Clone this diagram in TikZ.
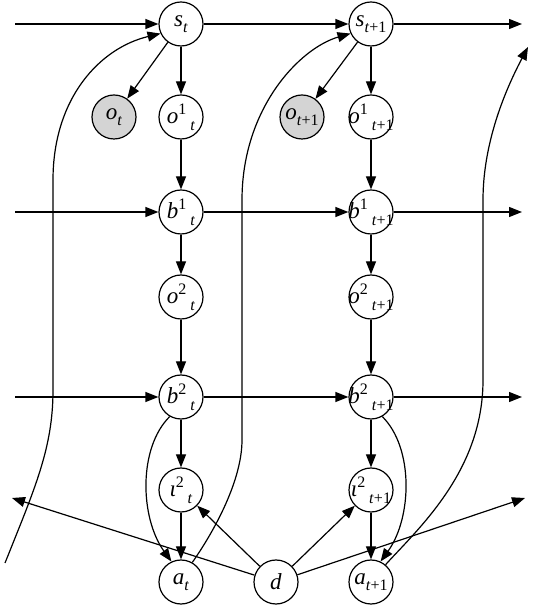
\documentclass[tikz,border=0pt]{standalone}
\usepackage{fontspec}
\setmainfont{Liberation Serif}
\usetikzlibrary{arrows.meta}
\newcommand\scfnt{\fontsize{16}{16}\selectfont}
\newcommand\nlab[3]{\makebox[0pt]{\textit{#1}\raisebox{.42em}{\scfnt #2}\,\raisebox{-.28em}{\scfnt #3}}}
\newcommand\slab[2]{\makebox[0pt]{\textit{#1}\raisebox{-.28em}{\scfnt #2}}}
\newcommand\tp{\textit{t}+1}
\begin{document}
\begin{tikzpicture}[x=1pt,y=1pt,
  st/.style={circle,draw,line width=1.2pt,minimum size=44pt,inner sep=0pt,font=\fontsize{23}{23}\selectfont},
  obs/.style={st,fill=black!17},
  ar/.style={line width=1.2pt,-{Triangle[length=13pt,width=10pt]}}]
\useasboundingbox (0,0) rectangle (540,608);
% nodes
\node[st] (st) at (181,584) {\slab{s}{\textit{t}}};
\node[st] (st1) at (371,584) {\slab{s}{\tp}};
\node[obs] (ot) at (114,491) {\slab{o}{\textit{t}}};
\node[st] (o1t) at (181,491) {\nlab{o}{1}{\textit{t}}};
\node[obs] (ot1) at (302,491) {\slab{o}{\tp}};
\node[st] (o1t1) at (371,491) {\nlab{o}{1}{\tp}};
\node[st] (b1t) at (181,396) {\nlab{b}{1}{\textit{t}}};
\node[st] (b1t1) at (371,396) {\nlab{b}{1}{\tp}};
\node[st] (o2t) at (181,311) {\nlab{o}{2}{\textit{t}}};
\node[st] (o2t1) at (371,311) {\nlab{o}{2}{\tp}};
\node[st] (b2t) at (181,211) {\nlab{b}{2}{\textit{t}}};
\node[st] (b2t1) at (371,211) {\nlab{b}{2}{\tp}};
\node[st] (it) at (181,118) {\nlab{ι}{2}{\textit{t}}};
\node[st] (it1) at (371,118) {\nlab{ι}{2}{\tp}};
\node[st] (at) at (181,26) {\slab{a}{\textit{t}}};
\node[st] (d) at (276,26) {\makebox[0pt]{\textit{d}}};
\node[st] (at1) at (371,26) {\slab{a}{\tp}};
% free ends
\coordinate (sin) at (15,584);
\coordinate (sout) at (522,584);
\coordinate (b1in) at (15,396);
\coordinate (b1out) at (522,396);
\coordinate (b2in) at (15,211);
\coordinate (b2out) at (522,211);
\coordinate (dl) at (12,110);
\coordinate (dr) at (525,110);
\coordinate (c1) at (5,45);
\coordinate (c3) at (528,561);
% horizontal chains
\draw[ar] (sin) -- (st);
\draw[ar] (st) -- (st1);
\draw[ar] (st1) -- (sout);
\draw[ar] (b1in) -- (b1t);
\draw[ar] (b1t) -- (b1t1);
\draw[ar] (b1t1) -- (b1out);
\draw[ar] (b2in) -- (b2t);
\draw[ar] (b2t) -- (b2t1);
\draw[ar] (b2t1) -- (b2out);
% vertical chains
\foreach \s in {t,t1}{
  \draw[ar] (s\s) -- (o\s);
  \draw[ar] (s\s) -- (o1\s);
  \draw[ar] (o1\s) -- (b1\s);
  \draw[ar] (b1\s) -- (o2\s);
  \draw[ar] (o2\s) -- (b2\s);
  \draw[ar] (b2\s) -- (i\s);
  \draw[ar] (i\s) -- (a\s);
}
\draw[ar] (b2t.240) .. controls (138,160) and (140,90) .. (at.115);
\draw[ar] (b2t1.300) .. controls (414,160) and (412,90) .. (at1.65);
% d edges
\draw[ar] (d) -- (it);
\draw[ar] (d) -- (it1);
\draw[ar] (d) -- (dl);
\draw[ar] (d) -- (dr);
% long curves
\draw[ar] (c1) .. controls (35,120) and (53,160) .. (53,218) -- (53,428)
  .. controls (53,510) and (100,560) .. (st.205);
\draw[ar] (at.60) .. controls (215,78) and (242,128) .. (242,168) -- (242,408)
  .. controls (242,500) and (300,560) .. (st1.205);
\draw[ar] (at1.50) .. controls (420,81) and (483,138) .. (483,228) -- (483,408)
  .. controls (483,458) and (500,508) .. (c3);
\end{tikzpicture}
\end{document}
